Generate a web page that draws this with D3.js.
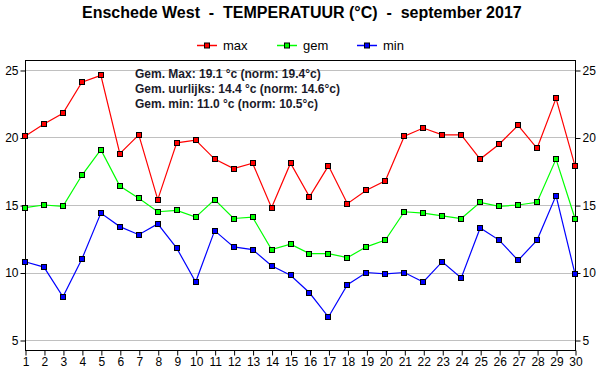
<!DOCTYPE html>
<html lang="nl">
<head>
  <meta charset="UTF-8">
  <title>Enschede West - temperatuur september 2017</title>
  <script src="https://d3js.org/d3.v7.min.js"></script>
  <style>
    body { margin: 0; background: #fff; }
    text { font-family: "Liberation Sans", Arial, sans-serif; }
  </style>
</head>
<body>
  <script>
    "use strict";
    var days = d3.range(1, 31);
    var maxTemp = [20.1, 21.0, 21.8, 24.1, 24.6, 18.8, 20.2, 15.4, 19.6, 19.8,
                   18.4, 17.7, 18.1, 14.8, 18.1, 15.6, 17.9, 15.1, 16.1, 16.8,
                   20.1, 20.7, 20.2, 20.2, 18.4, 19.5, 20.9, 19.2, 22.9, 17.9];
    var gemTemp = [14.8, 15.0, 14.9, 17.2, 19.1, 16.4, 15.5, 14.5, 14.6, 14.1,
                   15.4, 14.0, 14.1, 11.7, 12.1, 11.4, 11.4, 11.1, 11.9, 12.4,
                   14.5, 14.4, 14.2, 14.0, 15.2, 14.9, 15.0, 15.2, 18.4, 14.0];
    var minTemp = [10.8, 10.4, 8.2, 11.0, 14.4, 13.4, 12.8, 13.6, 11.8, 9.3,
                   13.1, 11.9, 11.7, 10.5, 9.8, 8.5, 6.7, 9.1, 10.0, 9.9,
                   10.0, 9.3, 10.8, 9.6, 13.3, 12.4, 10.9, 12.4, 15.7, 9.9];
    var yTicks = [5, 10, 15, 20, 25];
    var series = [
      { name: "max", color: "#ff0000", values: maxTemp },
      { name: "gem", color: "#00ff00", values: gemTemp },
      { name: "min", color: "#0000ff", values: minTemp }
    ];
    var notes = [
      "Gem. Max: 19.1 \u00b0c (norm: 19.4\u00b0c)",
      "Gem. uurlijks: 14.4 \u00b0c (norm: 14.6\u00b0c)",
      "Gem. min: 11.0 \u00b0c (norm: 10.5\u00b0c)"
    ];

    var width = 600, height = 390;
    var plotLeft = 25, plotRight = 575, plotTop = 60, plotBottom = 350;

    var svg = d3.select("body").append("svg")
      .attr("width", width)
      .attr("height", height);

    var x = d3.scaleLinear().domain([1, 30]).range([plotLeft, plotRight]);
    var y = d3.scaleLinear().domain([4.26, 25.74]).range([plotBottom, plotTop]);

    // rasterlijnen
    svg.append("g").selectAll("line")
      .data(yTicks)
      .enter().append("line")
      .attr("x1", plotLeft).attr("x2", plotRight)
      .attr("y1", function (d) { return Math.round(y(d)) + 0.5; })
      .attr("y2", function (d) { return Math.round(y(d)) + 0.5; })
      .attr("stroke", "#c0c0c0")
      .attr("stroke-width", 1);

    // kader
    svg.append("rect")
      .attr("x", plotLeft + 0.5).attr("y", plotTop + 0.5)
      .attr("width", plotRight - plotLeft).attr("height", plotBottom - plotTop)
      .attr("fill", "none")
      .attr("stroke", "#000");

    // assen
    var axisLeft = d3.axisLeft(y).tickValues(yTicks).tickSize(5).tickPadding(2);
    var axisRight = d3.axisRight(y).tickValues(yTicks).tickSize(5).tickPadding(2);
    var axisBottom = d3.axisBottom(x).tickValues(days).tickSize(5).tickPadding(2)
      .tickFormat(d3.format("d"));

    function styleAxis(g) {
      g.select(".domain").remove();
      g.selectAll("text")
        .attr("font-size", "12px")
        .attr("fill", "#000")
        .style("font-family", "'Liberation Sans', Arial, sans-serif");
      g.selectAll("line").attr("stroke", "#000");
    }

    svg.append("g").attr("transform", "translate(" + (plotLeft + 0.5) + ",0.5)")
      .call(axisLeft).call(styleAxis);
    svg.append("g").attr("transform", "translate(" + (plotRight + 0.5) + ",0.5)")
      .call(axisRight).call(styleAxis);
    svg.append("g").attr("transform", "translate(0.5," + (plotBottom + 0.5) + ")")
      .call(axisBottom).call(styleAxis);

    // lijnen
    var line = d3.line()
      .x(function (d, i) { return x(days[i]); })
      .y(function (d) { return y(d); });

    series.forEach(function (s) {
      svg.append("path")
        .datum(s.values)
        .attr("fill", "none")
        .attr("stroke", s.color)
        .attr("stroke-width", 1.2)
        .attr("d", line);
    });

    // markers
    series.forEach(function (s) {
      svg.append("g").selectAll("rect")
        .data(s.values)
        .enter().append("rect")
        .attr("x", function (d, i) { return Math.round(x(days[i])) - 2.5; })
        .attr("y", function (d) { return Math.round(y(d)) - 2.5; })
        .attr("width", 5).attr("height", 5)
        .attr("fill", s.color)
        .attr("stroke", "#000")
        .attr("stroke-width", 1);
    });

    // titel
    svg.append("text")
      .attr("x", 82).attr("y", 18)
      .attr("font-size", "16px")
      .attr("font-weight", "bold")
      .attr("fill", "#000")
      .style("white-space", "pre")
      .text("Enschede West  -  TEMPERATUUR (\u00b0C)  -  september 2017");

    // legenda
    var legend = svg.append("g").selectAll("g")
      .data(series)
      .enter().append("g")
      .attr("transform", function (d, i) { return "translate(" + (197 + i * 80) + ",45)"; });
    legend.append("line")
      .attr("x1", 0).attr("x2", 20).attr("y1", 0.5).attr("y2", 0.5)
      .attr("stroke", function (d) { return d.color; })
      .attr("stroke-width", 1.5);
    legend.append("rect")
      .attr("x", 7.5).attr("y", -2).attr("width", 5).attr("height", 5)
      .attr("fill", function (d) { return d.color; })
      .attr("stroke", "#000");
    legend.append("text")
      .attr("x", 26).attr("y", 5)
      .attr("font-size", "13px")
      .attr("fill", "#000")
      .text(function (d) { return d.name; });

    // gemiddelden
    svg.append("g").selectAll("text")
      .data(notes)
      .enter().append("text")
      .attr("x", 135)
      .attr("y", function (d, i) { return 78 + i * 15; })
      .attr("font-size", "12px")
      .attr("font-weight", "bold")
      .attr("fill", "#1a1a2a")
      .text(function (d) { return d; });
  </script>
</body>
</html>
